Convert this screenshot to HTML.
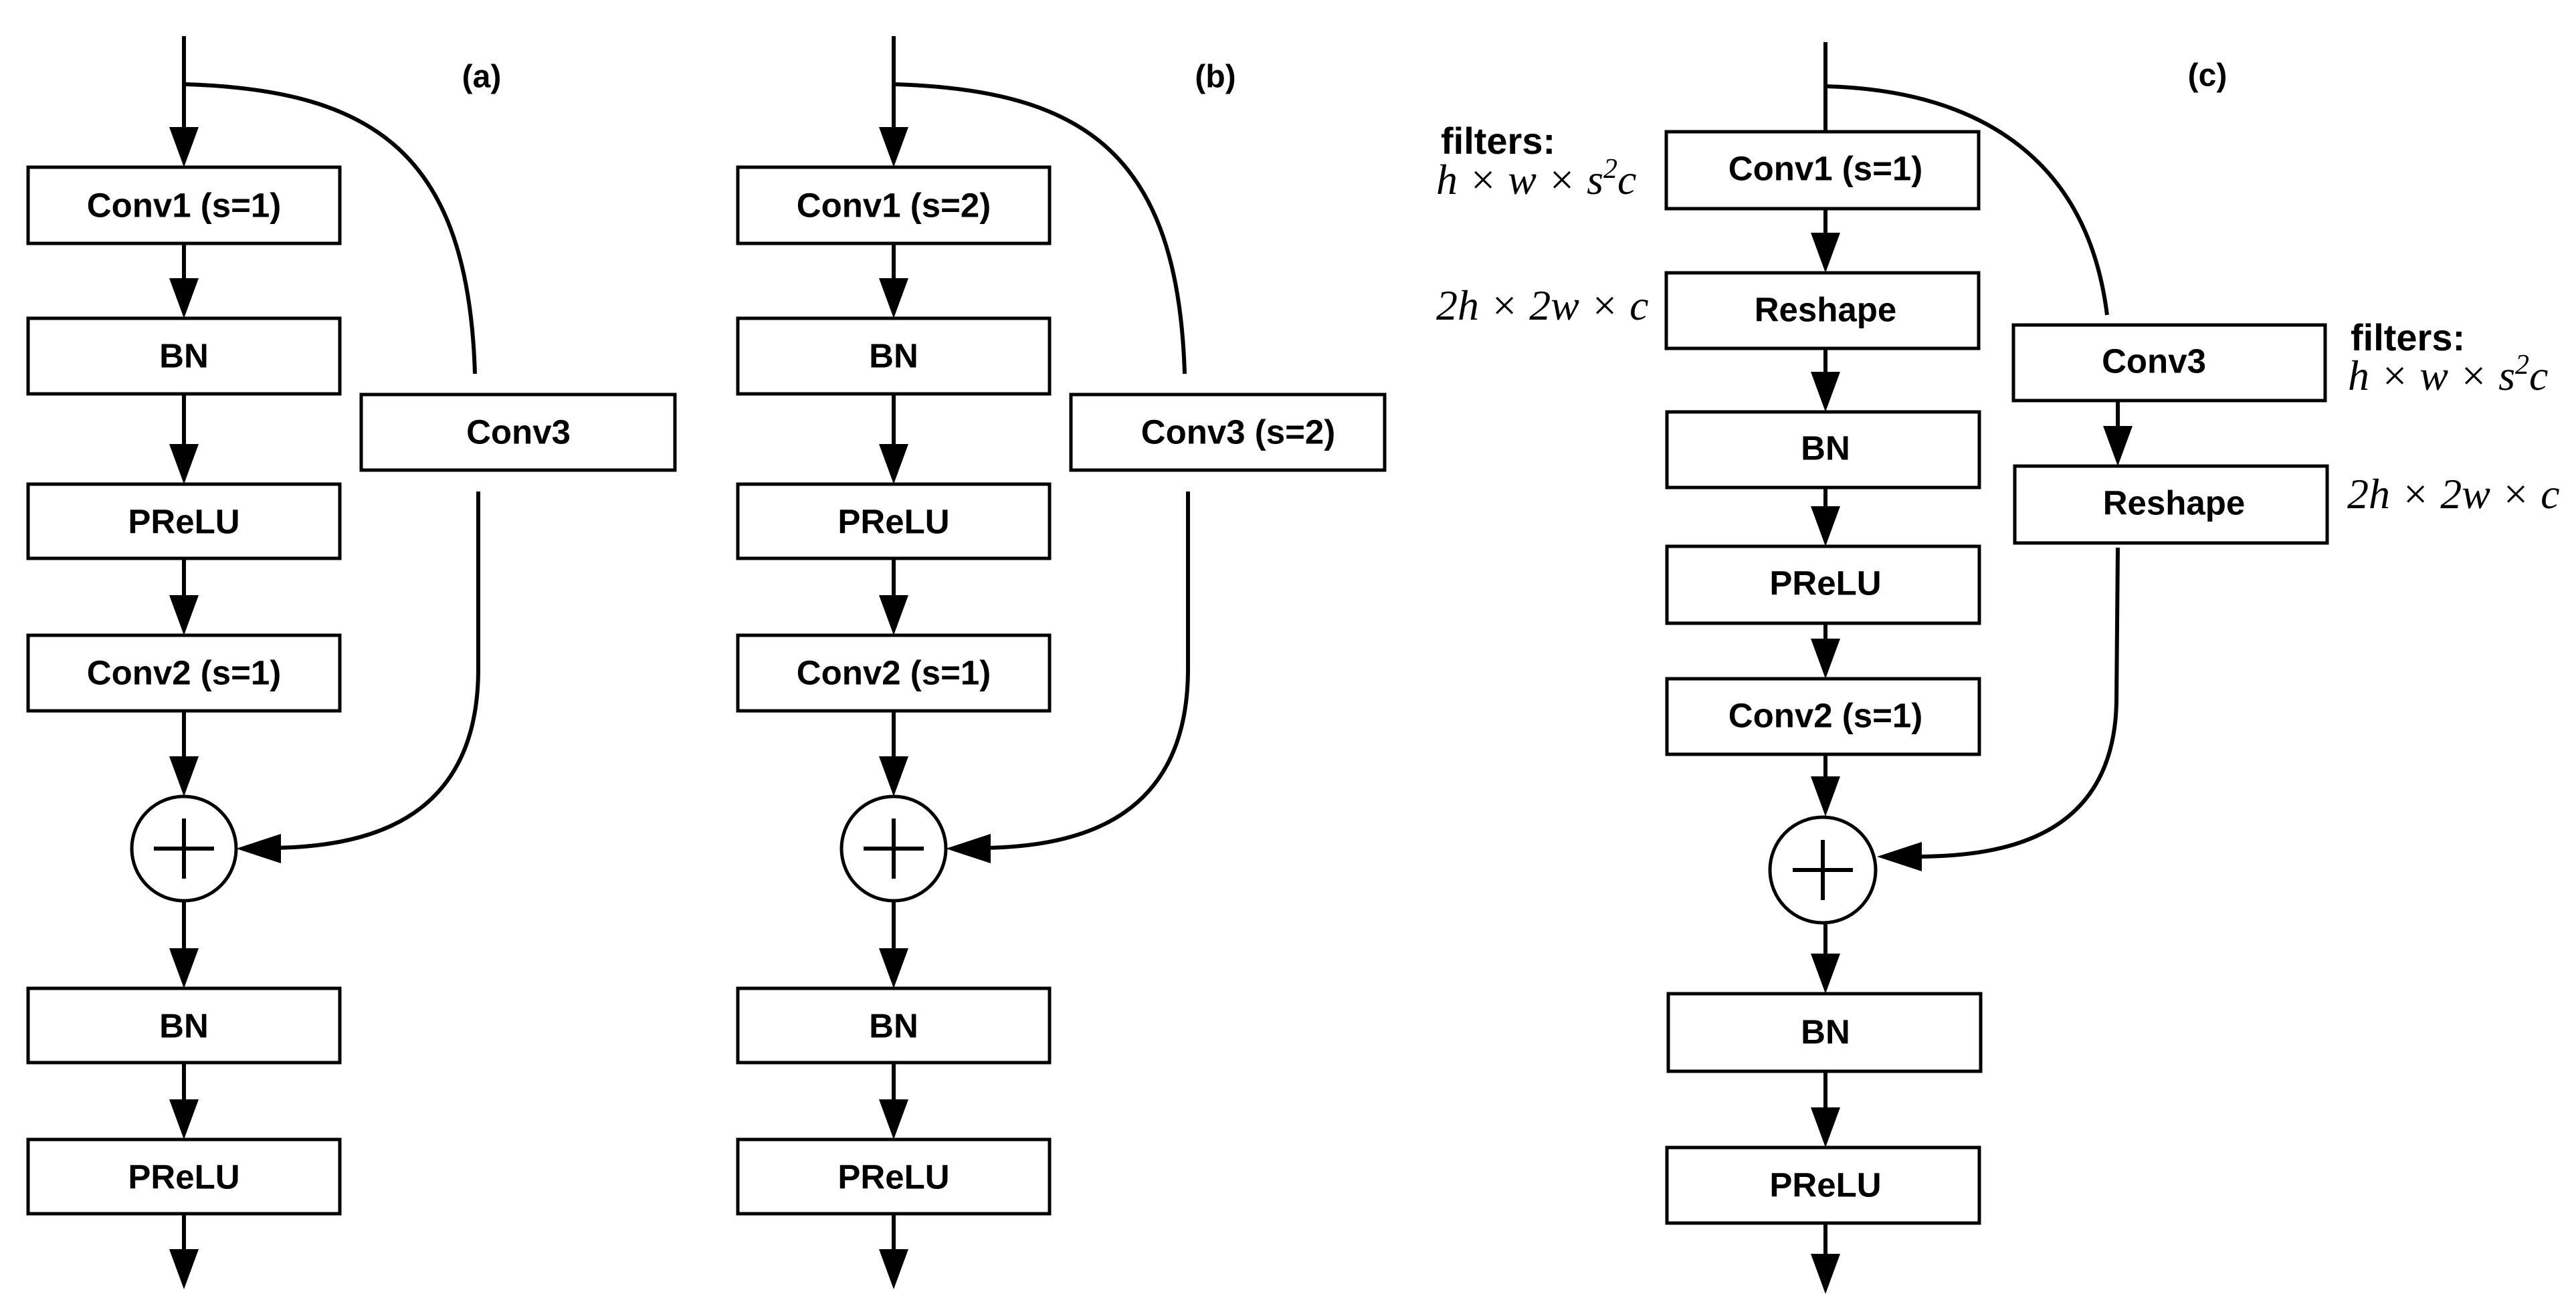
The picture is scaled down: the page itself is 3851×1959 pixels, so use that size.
<!DOCTYPE html>
<html><head><meta charset="utf-8"><style>
html,body{margin:0;padding:0;background:#fff;}
svg{display:block;}
.b{fill:#fff;stroke:#000;stroke-width:5;}
.t{font-family:"Liberation Sans",sans-serif;font-weight:bold;font-size:51px;text-anchor:middle;dominant-baseline:central;}
.m{font-family:"Liberation Serif",serif;font-style:italic;font-size:64px;}
.l{stroke:#000;stroke-width:6;fill:none;}
</style></head><body>
<svg width="3851" height="1959" viewBox="0 0 3851 1959" xmlns="http://www.w3.org/2000/svg">
<defs>
<g id="ah"><polygon points="-22,-60 22,-60 0,0" fill="#000"/></g>
</defs>

<!-- Panel a -->
<g>
<text class="t" x="720" y="115" style="font-size:48px">(a)</text>
<rect class="b" x="42" y="250" width="466" height="114"/><text class="t" x="275" y="307">Conv1 (s=1)</text>
<rect class="b" x="42" y="476" width="466" height="113"/><text class="t" x="275" y="532">BN</text>
<rect class="b" x="42" y="724" width="466" height="111"/><text class="t" x="275" y="780">PReLU</text>
<rect class="b" x="42" y="950" width="466" height="113"/><text class="t" x="275" y="1006">Conv2 (s=1)</text>
<rect class="b" x="42" y="1478" width="466" height="111"/><text class="t" x="275" y="1534">BN</text>
<rect class="b" x="42" y="1704" width="466" height="111"/><text class="t" x="275" y="1760">PReLU</text>
<rect class="b" x="540" y="590" width="469" height="113"/><text class="t" x="775" y="646">Conv3</text>
<circle cx="275" cy="1269" r="78" fill="#fff" stroke="#000" stroke-width="5"/>
<path class="l" d="M230,1269H320M275,1224V1314" stroke-width="5"/>
<path class="l" d="M275,54V200M275,364V420M275,589V668M275,835V894M275,1063V1140M275,1347V1422M275,1589V1648M275,1815V1875"/>
<use href="#ah" x="275" y="250"/><use href="#ah" x="275" y="476"/><use href="#ah" x="275" y="724"/><use href="#ah" x="275" y="950"/><use href="#ah" x="275" y="1191"/><use href="#ah" x="275" y="1478"/><use href="#ah" x="275" y="1704"/><use href="#ah" x="275" y="1928"/>
<path class="l" stroke-width="5" d="M277,126 C560,135 700,230 710,559"/>
<path class="l" stroke-width="5" d="M715,735 L715,1000 C715,1220 560,1266 410,1268"/>
<polygon points="353,1269 420,1247 420,1291" fill="#000"/>
</g>

<!-- Panel b -->
<g transform="translate(1061,0)">
<text class="t" x="756" y="115" style="font-size:48px">(b)</text>
<rect class="b" x="42" y="250" width="466" height="114"/><text class="t" x="275" y="307">Conv1 (s=2)</text>
<rect class="b" x="42" y="476" width="466" height="113"/><text class="t" x="275" y="532">BN</text>
<rect class="b" x="42" y="724" width="466" height="111"/><text class="t" x="275" y="780">PReLU</text>
<rect class="b" x="42" y="950" width="466" height="113"/><text class="t" x="275" y="1006">Conv2 (s=1)</text>
<rect class="b" x="42" y="1478" width="466" height="111"/><text class="t" x="275" y="1534">BN</text>
<rect class="b" x="42" y="1704" width="466" height="111"/><text class="t" x="275" y="1760">PReLU</text>
<rect class="b" x="540" y="590" width="469" height="113"/><text class="t" x="790" y="646">Conv3 (s=2)</text>
<circle cx="275" cy="1269" r="78" fill="#fff" stroke="#000" stroke-width="5"/>
<path class="l" d="M230,1269H320M275,1224V1314" stroke-width="5"/>
<path class="l" d="M275,54V200M275,364V420M275,589V668M275,835V894M275,1063V1140M275,1347V1422M275,1589V1648M275,1815V1875"/>
<use href="#ah" x="275" y="250"/><use href="#ah" x="275" y="476"/><use href="#ah" x="275" y="724"/><use href="#ah" x="275" y="950"/><use href="#ah" x="275" y="1191"/><use href="#ah" x="275" y="1478"/><use href="#ah" x="275" y="1704"/><use href="#ah" x="275" y="1928"/>
<path class="l" stroke-width="5" d="M277,126 C560,135 700,230 710,559"/>
<path class="l" stroke-width="5" d="M715,735 L715,1000 C715,1220 560,1266 410,1268"/>
<polygon points="353,1269 420,1247 420,1291" fill="#000"/>
</g>

<!-- Panel c -->
<g>
<text class="t" x="3300" y="113" style="font-size:48px">(c)</text>
<rect class="b" x="2491" y="197" width="467" height="115"/><text class="t" x="2729" y="252">Conv1 (s=1)</text>
<rect class="b" x="2491" y="408" width="467" height="113"/><text class="t" x="2729" y="463">Reshape</text>
<rect class="b" x="2492" y="616" width="467" height="113"/><text class="t" x="2729" y="670">BN</text>
<rect class="b" x="2492" y="817" width="467" height="115"/><text class="t" x="2729" y="872">PReLU</text>
<rect class="b" x="2492" y="1015" width="467" height="113"/><text class="t" x="2729" y="1070">Conv2 (s=1)</text>
<rect class="b" x="2494" y="1486" width="467" height="116"/><text class="t" x="2729" y="1543">BN</text>
<rect class="b" x="2492" y="1716" width="467" height="113"/><text class="t" x="2729" y="1772">PReLU</text>
<rect class="b" x="3010" y="486" width="466" height="113"/><text class="t" x="3220" y="540">Conv3</text>
<rect class="b" x="3012" y="697" width="467" height="115"/><text class="t" x="3250" y="752">Reshape</text>
<circle cx="2725" cy="1301" r="79" fill="#fff" stroke="#000" stroke-width="5"/>
<path class="l" d="M2680,1301H2770M2725,1256V1346" stroke-width="5"/>
<path class="l" d="M2729,63V197M2729,312V352M2729,521V560M2729,729V762M2729,932V960M2729,1128V1166M2729,1382V1430M2729,1602V1660M2729,1829V1880M3166,599V640"/>
<use href="#ah" x="2729" y="408"/><use href="#ah" x="2729" y="616"/><use href="#ah" x="2729" y="817"/><use href="#ah" x="2729" y="1015"/><use href="#ah" x="2729" y="1221"/><use href="#ah" x="2729" y="1486"/><use href="#ah" x="2729" y="1716"/><use href="#ah" x="2729" y="1935"/><use href="#ah" x="3166" y="697"/>
<path class="l" stroke-width="5" d="M2729,129 C2950,135 3120,230 3150,471"/>
<path class="l" stroke-width="5" d="M3166,819 L3164,1050 C3160,1250 3000,1280 2870,1281"/>
<polygon points="2806,1281 2873,1259 2873,1303" fill="#000"/>
<text x="2154" y="230" style="font-family:'Liberation Sans',sans-serif;font-weight:bold;font-size:56px">filters:</text>
<text class="m" x="2147" y="290">h × w × s<tspan dy="-24" font-size="42">2</tspan><tspan dy="24">c</tspan></text>
<text class="m" x="2147" y="478">2h × 2w × c</text>
<text x="3514" y="524" style="font-family:'Liberation Sans',sans-serif;font-weight:bold;font-size:56px">filters:</text>
<text class="m" x="3510" y="583">h × w × s<tspan dy="-24" font-size="42">2</tspan><tspan dy="24">c</tspan></text>
<text class="m" x="3509" y="760">2h × 2w × c</text>
</g>
</svg>
</body></html>
